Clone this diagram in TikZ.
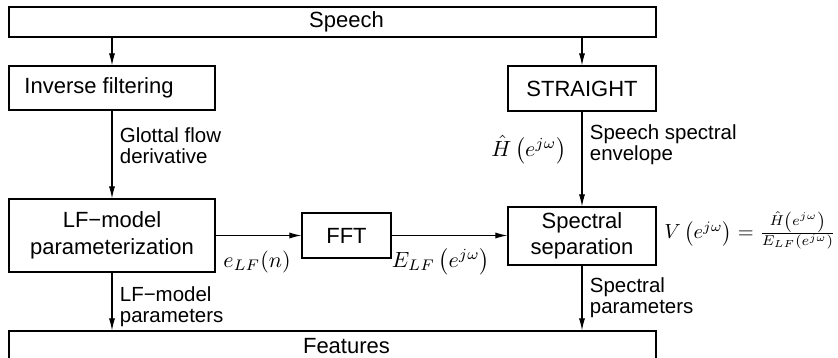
\documentclass[tikz,border=0pt]{standalone}
\usepackage{fontspec}
\setmainfont{Liberation Sans}
\usetikzlibrary{arrows.meta}

\begin{document}
\begin{tikzpicture}[x=0.4545pt, y=-0.4545pt,
        block/.style={draw, line width=0.5pt, inner sep=0pt, font=\fontsize{10}{12}\selectfont},
        sig/.style={font=\fontsize{9.3}{9.6}\selectfont, align=left},
        flow/.style={-{Latex[length=5.5pt, width=2.8pt]}, line width=0.5pt}]
        \def \px {0.4545pt};

        % рамка
        \useasboundingbox ( 0, 0 ) rectangle ( 838, 358 );
        \clip ( 0, 0 ) rectangle ( 838, 358 );

        % блоки
        \node [block, minimum width=647*\px, minimum height=30*\px] (speech) at ( 332.5, 22 ) {\hspace*{12.7pt}Speech};
        \node [block, minimum width=206*\px, minimum height=44*\px] (inv) at ( 112, 88 ) {Inverse filtering\hspace*{11.8pt}};
        \node [block, minimum width=148*\px, minimum height=45*\px] (straight) at ( 582, 88.5 ) {STRAIGHT};
        \node [block, align=center, minimum width=206*\px, minimum height=73*\px] (lf) at ( 112, 235.5 ) {LF−model\\parameterization};
        \node [block, minimum width=89*\px, minimum height=45*\px] (fft) at ( 346.5, 235.5 ) {FFT};
        \node [block, align=center, minimum width=148*\px, minimum height=58*\px] (sep) at ( 582, 236 ) {Spectral\\separation};
        \node [block, minimum width=647*\px, minimum height=30*\px] (features) at ( 332.5, 346 ) {\hspace*{12.7pt}Features};

        % связи
        \draw [flow] (speech.south -| inv.north) -- (inv.north);
        \draw [flow] (speech.south -| straight.north) -- (straight.north);
        \draw [flow] (inv.south) -- node [sig, right, pos=0.4] (glottal) {Glottal flow\\derivative} (lf.north);
        \draw [flow] (straight.south) -- node [sig, right, pos=0.35] (envelope) {Speech spectral\\envelope}
            node [left, pos=0.4, xshift=-3.5pt] (hhat) {$\hat{H}\left(e^{j\omega}\right)$} (sep.north);
        \draw [flow] (lf.east) -- (fft.west);
        \draw [flow] (fft.east) -- (fft.east -| sep.west);
        \draw [flow] (lf.south) -- node [sig, right, pos=0.59] (lfpar) {LF−model\\parameters} (lf.south |- features.north);
        \draw [flow] (sep.south) -- node [sig, right, pos=0.5] (specpar) {Spectral\\parameters} (sep.south |- features.north);

        % сигналы
        \node [anchor=base west, yshift=2.5pt] (elf) at (lf.south east) {$e_{LF}(n)$};
        \node [anchor=base west, inner sep=0pt, yshift=-4pt] (Elf) at (fft.south east) {$E_{LF}\left(e^{j\omega}\right)$};
        \node [anchor=west, inner sep=0pt, xshift=3.4pt, yshift=2.5pt, scale=0.93, transform shape] (vform) at (sep.east)
            {$V\left(e^{j\omega}\right) = \frac{\hat{H}\left(e^{j\omega}\right)}{E_{LF}\left(e^{j\omega}\right)}$};
    \end{tikzpicture}
\end{document}
